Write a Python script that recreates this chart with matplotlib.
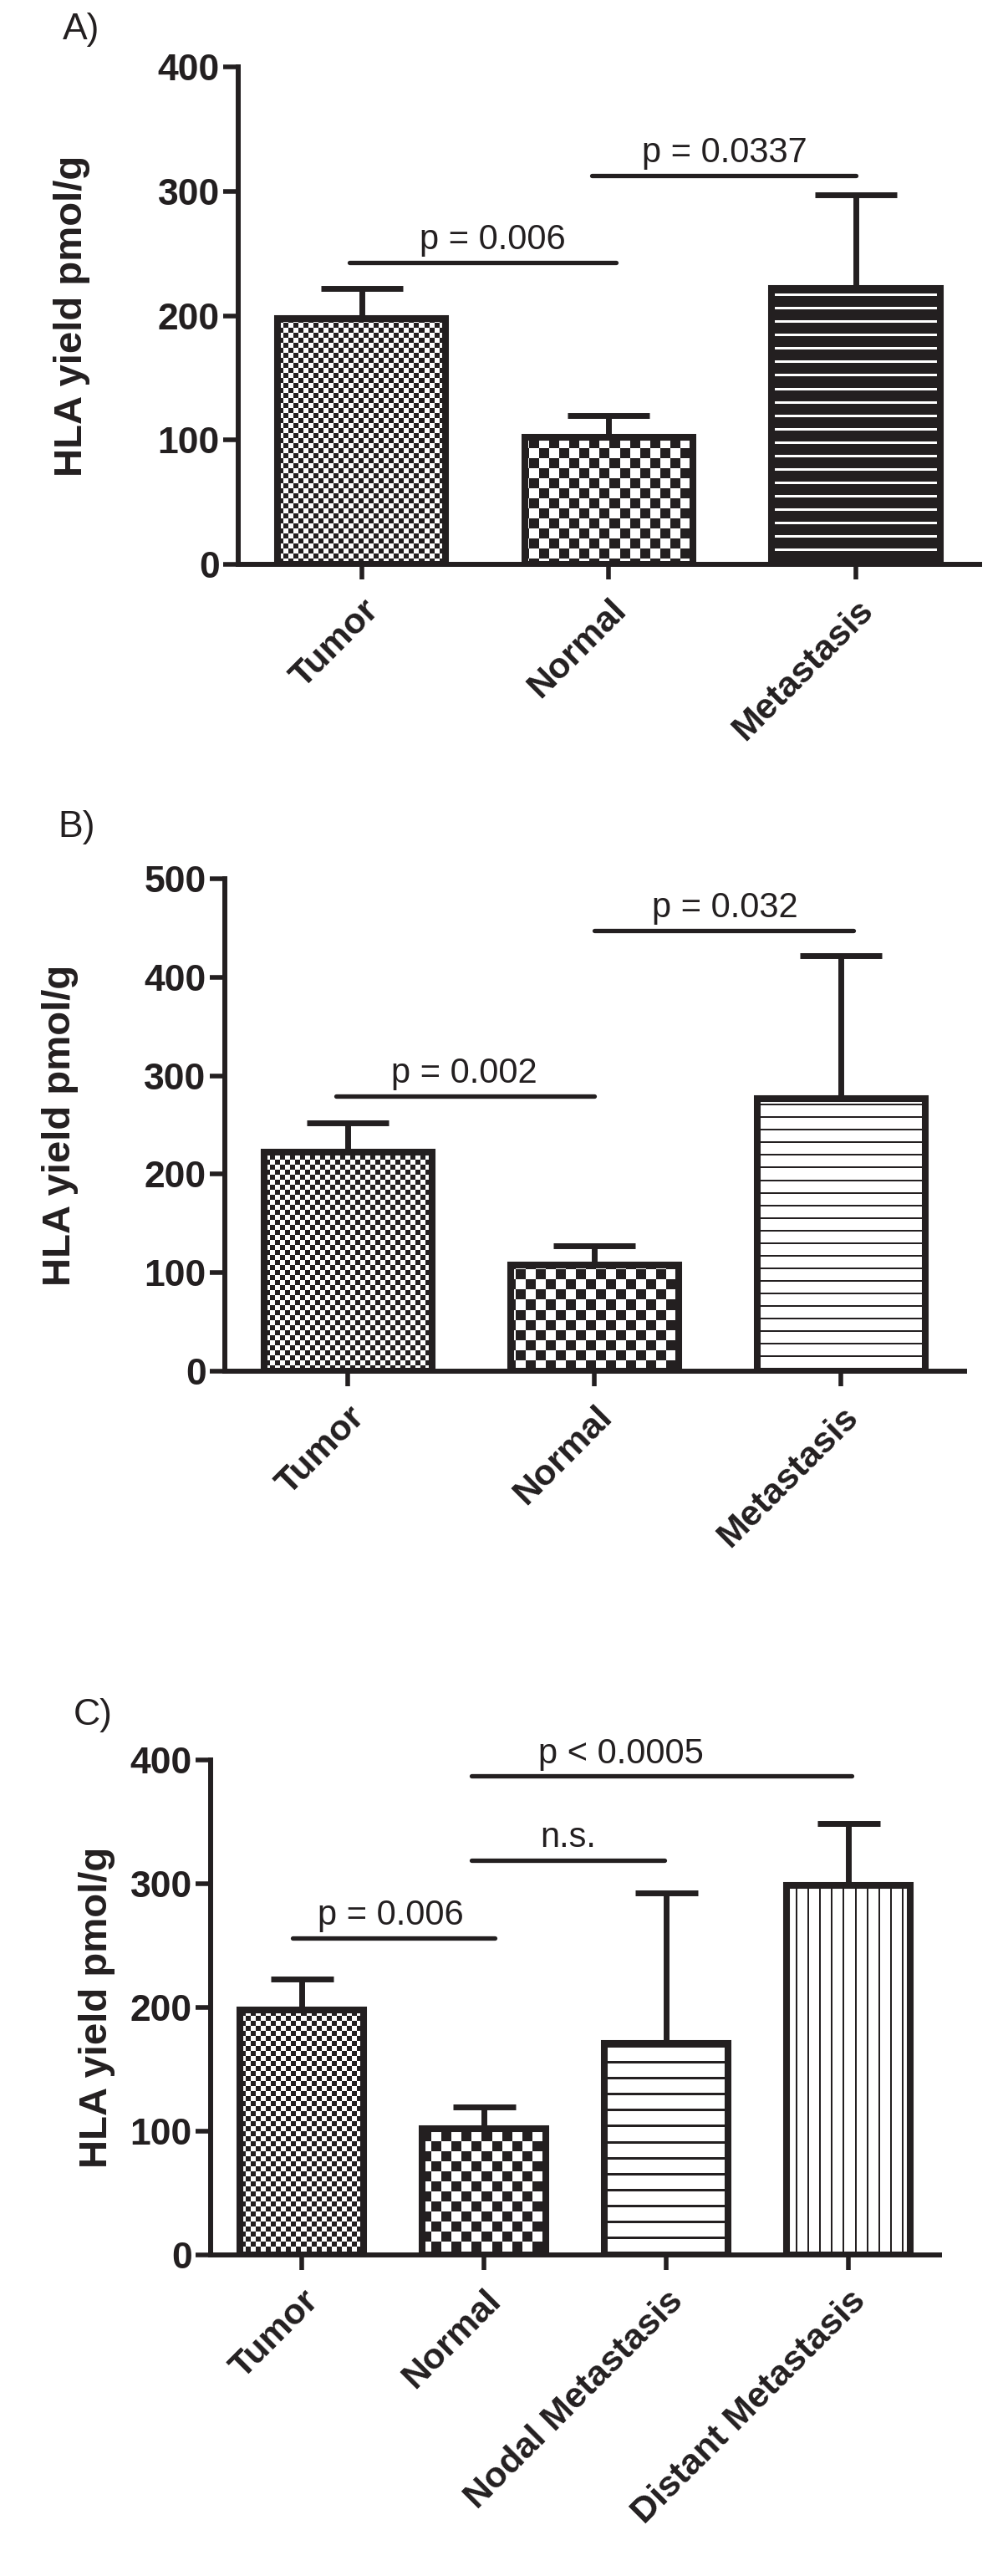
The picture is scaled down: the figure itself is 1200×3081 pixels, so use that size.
import numpy as np
import matplotlib
matplotlib.use('Agg')
import matplotlib.pyplot as plt
from matplotlib.colors import ListedColormap
from matplotlib.transforms import ScaledTranslation

# Данные
groups_ab = ['Tumor', 'Normal', 'Metastasis']
groups_c = ['Tumor', 'Normal', 'Nodal Metastasis', 'Distant Metastasis']

mean_a = [198, 102, 222]
err_a = [24, 18, 75]
mean_b = [222, 108, 277]
err_b = [30, 19, 145]
mean_c = [198, 102, 171, 299]
err_c = [25, 18, 122, 50]

yticks_a = [0, 100, 200, 300, 400]
yticks_b = [0, 100, 200, 300, 400, 500]
yticks_c = [0, 100, 200, 300, 400]

# линии значимости: (от, до, уровень, центр текста, текст)
sig_a = [(-0.05, 1.03, 243, 0.53, 'p = 0.006'),
         (0.93, 2.0, 313, 1.47, 'p = 0.0337')]
sig_b = [(-0.05, 1.0, 279, 0.47, 'p = 0.002'),
         (1.0, 2.05, 447, 1.53, 'p = 0.032')]
sig_c = [(-0.05, 1.06, 256, 0.49, 'p = 0.006'),
         (0.93, 1.99, 319, 1.46, 'n.s.'),
         (0.93, 3.02, 387, 1.75, 'p < 0.0005')]

pat_a = ['fine', 'coarse', 'hthick']
pat_b = ['fine', 'coarse', 'hthin']
pat_c = ['fine', 'coarse', 'hwide', 'vert']

W_PX, H_PX = 1200, 3081
INK = '#231f20'
plt.rcParams['font.family'] = ['Liberation Sans', 'DejaVu Sans']

fig = plt.figure(figsize=(W_PX / 100, H_PX / 100), dpi=100)
cmap = ListedColormap([INK, 'white'])


def texture(kind, h, w):
    yy, xx = np.mgrid[0:h, 0:w]
    if kind == 'fine':
        return (yy // 6 + xx // 6) % 2
    if kind == 'coarse':
        return (yy // 12 + xx // 12) % 2
    if kind == 'hthick':
        return ((yy % 16) < 3).astype(int)
    if kind == 'hthin':
        return ((yy % 15) >= 2).astype(int)
    if kind == 'hwide':
        return ((yy % 19) >= 3).astype(int)
    return ((xx % 14) >= 2).astype(int)


def panel(rect, groups, means, errs, yticks, sigs, pats, cap, ylab_x,
          lab_shift):
    ax = fig.add_axes(rect)
    x = np.arange(len(groups))
    xlim = (-0.5, len(groups) - 0.5)
    ylim = (0, yticks[-1])
    w = int(round(rect[2] * W_PX))
    h = int(round(rect[3] * H_PX))
    bars = ax.bar(x, means, width=0.68, facecolor='none', edgecolor=INK,
                  linewidth=5.8, zorder=3)
    for bar, kind in zip(bars, pats):
        img = ax.imshow(texture(kind, h, w), cmap=cmap, vmin=0, vmax=1,
                        extent=(xlim[0], xlim[1], ylim[0], ylim[1]),
                        origin='upper', interpolation='nearest',
                        aspect='auto', zorder=1)
        img.set_clip_path(bar)
    ax.errorbar(x, means, yerr=[np.zeros(len(errs)), errs], fmt='none',
                ecolor=INK, elinewidth=5, capsize=cap, capthick=5,
                zorder=2)
    for x0, x1, lvl, xt, txt in sigs:
        ax.plot([x0, x1], [lvl, lvl], color=INK, lw=3.8,
                solid_capstyle='round', zorder=4, clip_on=False)
        ax.annotate(txt, (xt, lvl), xytext=(0, 5),
                    textcoords='offset points', ha='center', va='bottom',
                    fontsize=30, color=INK)
    ax.set_xlim(xlim)
    ax.set_ylim(ylim)
    ax.set_yticks(yticks)
    ax.set_xticks(x)
    ax.set_xticklabels(groups, rotation=45, ha='right',
                       rotation_mode='anchor', fontsize=31,
                       fontweight='bold', color=INK)
    shift = ScaledTranslation(lab_shift[0] / 100, lab_shift[1] / 100,
                              fig.dpi_scale_trans)
    for t in ax.get_xticklabels():
        t.set_transform(t.get_transform() + shift)
    for t in ax.get_yticklabels():
        t.set_fontsize(32)
        t.set_fontweight('bold')
        t.set_color(INK)
    for s in ['top', 'right']:
        ax.spines[s].set_visible(False)
    for s in ['left', 'bottom']:
        ax.spines[s].set_linewidth(4.3)
        ax.spines[s].set_color(INK)
    ax.tick_params(axis='y', length=13, width=4, color=INK, pad=3)
    ax.tick_params(axis='x', length=13, width=4, color=INK, pad=12)
    ax.set_ylabel('HLA yield pmol/g', fontsize=34, fontweight='bold',
                  color=INK)
    ax.yaxis.set_label_coords(ylab_x, 0.5)
    return ax


panel([0.2375, 0.7809, 0.739, 0.1931], groups_ab, mean_a, err_a, yticks_a,
      sig_a, pat_a, 35, -0.2, (-12, -6))
panel([0.224, 0.4677, 0.7375, 0.1912], groups_ab, mean_b, err_b, yticks_b,
      sig_b, pat_b, 35, -0.198, (-12, -8))
panel([0.21, 0.1246, 0.7267, 0.1921], groups_c, mean_c, err_c, yticks_c,
      sig_c, pat_c, 27, -0.131, (-4, 0))

for lab, fx, fy in [('A)', 0.081, 0.9886), ('B)', 0.076, 0.679),
                    ('C)', 0.093, 0.334)]:
    fig.text(fx, fy, lab, fontsize=32, ha='center', va='center', color=INK)

fig.savefig('out.png', dpi=100)
